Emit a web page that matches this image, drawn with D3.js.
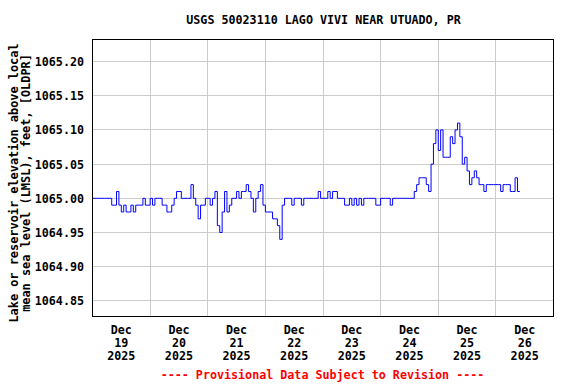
<!DOCTYPE html>
<html>
<head>
<meta charset="utf-8">
<script src="https://cdn.jsdelivr.net/npm/d3@7"></script>
<style>
    body { margin: 0; background: #fff; }
    svg { display: block; font-family: "DejaVu Sans Mono", monospace; font-weight: bold; }
</style>
</head>
<body>
<svg width="576" height="384"></svg>
<script>
// hourly gage height, starting Dec 18 12:00 (feet)
const dec18 = [1065.00, 1065.00, 1065.00, 1065.00, 1065.00, 1065.00, 1065.00, 1065.00,
               1064.99, 1064.99, 1065.01, 1064.99];
const dec19 = [1064.98, 1064.99, 1064.98, 1064.98, 1064.99, 1064.98,
               1064.99, 1064.99, 1064.99, 1065.00, 1064.99, 1064.99,
               1065.00, 1064.99, 1065.00, 1065.00, 1065.00, 1064.99,
               1064.99, 1064.98, 1064.98, 1064.99, 1065.00, 1065.01];
const dec20 = [1065.01, 1065.00, 1065.00, 1065.00, 1065.00, 1065.02,
               1065.00, 1064.99, 1064.97, 1064.99, 1064.99, 1065.00,
               1065.00, 1064.99, 1065.00, 1065.01, 1064.96, 1064.95,
               1064.98, 1065.01, 1064.98, 1064.99, 1065.00, 1065.00];
const dec21 = [1065.01, 1065.00, 1065.01, 1065.01, 1065.02, 1065.01,
               1065.00, 1064.98, 1065.00, 1065.01, 1065.02, 1064.99,
               1064.98, 1064.98, 1064.98, 1064.97, 1064.97, 1064.96,
               1064.94, 1064.99, 1065.00, 1065.00, 1065.00, 1064.99];
const dec22 = [1065.00, 1065.00, 1065.00, 1064.99, 1065.00, 1065.00,
               1065.00, 1065.00, 1065.00, 1065.00, 1065.01, 1065.00,
               1065.00, 1065.00, 1065.01, 1065.00, 1065.01, 1065.01,
               1065.00, 1065.00, 1065.00, 1064.99, 1064.99, 1065.00];
const dec23 = [1064.99, 1065.00, 1064.99, 1065.00, 1064.99, 1065.00,
               1065.00, 1065.00, 1065.00, 1065.00, 1064.99, 1064.99,
               1065.00, 1065.00, 1065.00, 1065.00, 1064.99, 1065.00,
               1065.00, 1065.00, 1065.00, 1065.00, 1065.00, 1065.00];
const dec24 = [1065.00, 1065.00, 1065.01, 1065.02, 1065.03, 1065.03,
               1065.03, 1065.02, 1065.01, 1065.05, 1065.08, 1065.10,
               1065.07, 1065.10, 1065.06, 1065.06, 1065.06, 1065.09,
               1065.08, 1065.10, 1065.11, 1065.09, 1065.05, 1065.06];
const dec25 = [1065.04, 1065.02, 1065.03, 1065.04, 1065.03, 1065.02,
               1065.02, 1065.01, 1065.02, 1065.02, 1065.02, 1065.02,
               1065.02, 1065.02, 1065.01, 1065.02, 1065.02, 1065.02,
               1065.01, 1065.01, 1065.03, 1065.01, 1065.01];

const yTicks   = [1064.85, 1064.90, 1064.95, 1065.00, 1065.05, 1065.10, 1065.15, 1065.20];
const tickDays = ["19", "20", "21", "22", "23", "24", "25", "26"];
const tickMonth = "Dec";
const tickYear  = "2025";

const title  = "USGS 50023110 LAGO VIVI NEAR UTUADO, PR";
const yTitle = ["Lake or reservoir elevation above local", "mean sea level (LMSL), feet, [OLDPR]"];
const footer = "---- Provisional Data Subject to Revision ----";

const start = new Date(2025, 11, 18, 12);
const end   = new Date(2025, 11, 26, 12);

const series = [dec18, dec19, dec20, dec21, dec22, dec23, dec24, dec25].flat()
    .map((v, i) => ({t: d3.timeHour.offset(start, i), v: v}));

const plotL = 92.5, plotR = 553.5, plotT = 39.5, plotB = 316.5;

const x = d3.scaleTime().domain([start, end]).range([plotL, plotR]);
const y = d3.scaleLinear().domain([1064.8272, 1065.2322]).range([plotB, plotT]);

const svg = d3.select("svg");
const fs = "11.7px";

svg.append("text")
    .attr("x", 323.5).attr("y", 24)
    .attr("text-anchor", "middle")
    .attr("font-size", fs)
    .text(title);

// grid
const grid = svg.append("g").attr("stroke", "#cccccc").attr("stroke-width", 1);
grid.selectAll(".hg")
    .data(yTicks)
    .enter().append("line")
    .attr("x1", plotL).attr("x2", plotR)
    .attr("y1", d => Math.floor(y(d)) + 0.5)
    .attr("y2", d => Math.floor(y(d)) + 0.5);

const noons = d3.timeDay.range(new Date(2025, 11, 19), new Date(2025, 11, 26))
    .map(d => d3.timeHour.offset(d, 12));
grid.selectAll(".vg")
    .data(noons)
    .enter().append("line")
    .attr("y1", plotT).attr("y2", plotB)
    .attr("x1", d => Math.floor(x(d)) + 0.5)
    .attr("x2", d => Math.floor(x(d)) + 0.5);

// data
const line = d3.line()
    .x(d => x(d.t))
    .y(d => y(d.v))
    .curve(d3.curveStepAfter);

svg.append("path")
    .datum(series)
    .attr("fill", "none")
    .attr("stroke", "#0000ff")
    .attr("stroke-width", 1)
    .attr("d", line);

svg.append("rect")
    .attr("x", plotL).attr("y", plotT)
    .attr("width", plotR - plotL).attr("height", plotB - plotT)
    .attr("fill", "none")
    .attr("stroke", "#000");

// y labels
svg.selectAll(".yl")
    .data(yTicks)
    .enter().append("text")
    .attr("x", 84)
    .attr("y", d => Math.floor(y(d)) + 4.5)
    .attr("text-anchor", "end")
    .attr("font-size", fs)
    .text(d => d.toFixed(2));

// x labels
const xl = svg.selectAll(".xl")
    .data(tickDays)
    .enter().append("text")
    .attr("text-anchor", "middle")
    .attr("font-size", fs)
    .attr("transform", d => `translate(${x(new Date(2025, 11, +d))}, 0)`);
xl.append("tspan").attr("x", 0).attr("y", 334).text(tickMonth);
xl.append("tspan").attr("x", 0).attr("y", 347).text(d => d);
xl.append("tspan").attr("x", 0).attr("y", 360).text(tickYear);

svg.append("text")
    .attr("transform", "translate(0, 183) rotate(-90)")
    .attr("text-anchor", "middle")
    .attr("font-size", "11.9px")
    .selectAll("tspan")
    .data(yTitle)
    .enter().append("tspan")
    .attr("x", 0)
    .attr("y", (d, i) => 17.5 + i * 12.5)
    .text(d => d);

svg.append("text")
    .attr("x", 322.5).attr("y", 379)
    .attr("text-anchor", "middle")
    .attr("font-size", fs)
    .attr("fill", "#ff0000")
    .text(footer);
</script>
</body>
</html>
